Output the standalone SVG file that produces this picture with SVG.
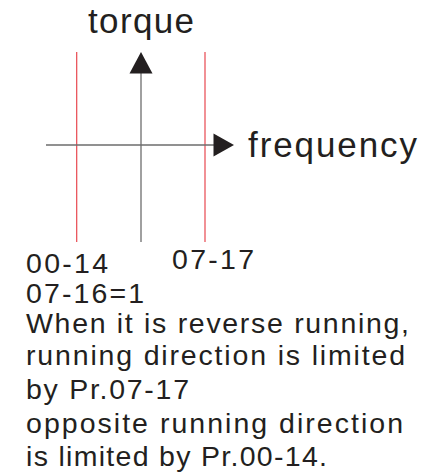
<svg xmlns="http://www.w3.org/2000/svg" width="430" height="473" viewBox="0 0 430 473">
<style>
.t{font-family:"Liberation Sans",Arial,sans-serif;fill:#231f20}
.title{font-size:35px}
.body{font-size:28.5px}
.red{stroke:#e8474f;stroke-width:1.2;fill:none}
.axis{stroke:#6d6d6d;stroke-width:1.3;fill:none}
.head{fill:#231f20}
</style>
<rect width="430" height="473" fill="#ffffff"/>
<g id="connectors">
<line class="red" x1="76.7" y1="52" x2="76.7" y2="242"/>
<line class="red" x1="205" y1="52" x2="205" y2="242"/>
<line class="axis" x1="141" y1="72" x2="141" y2="242"/>
<polygon class="head" points="141,52 129.5,73.5 152.5,73.5"/>
<line class="axis" x1="46" y1="145" x2="215" y2="145"/>
<polygon class="head" points="234,145 213.5,133.5 213.5,156.5"/>
</g>
<g id="torque"><text class="t title" x="88" y="33.3" textLength="106" lengthAdjust="spacing">torque</text></g>
<g id="frequency"><text class="t title" x="248" y="156.5" textLength="169" lengthAdjust="spacing">frequency</text></g>
<g id="label-0014"><text class="t body" x="26" y="272.7" textLength="82" lengthAdjust="spacing">00-14</text></g>
<g id="label-0717"><text class="t body" x="172" y="269.3" textLength="82" lengthAdjust="spacing">07-17</text></g>
<g id="notes">
<text class="t body" x="26" y="303.3" textLength="118" lengthAdjust="spacing">07-16=1</text>
<text class="t body" x="26" y="333.3" textLength="383" lengthAdjust="spacing">When it is reverse running,</text>
<text class="t body" x="26" y="365" textLength="379" lengthAdjust="spacing">running direction is limited</text>
<text class="t body" x="26" y="399.3" textLength="163" lengthAdjust="spacing">by Pr.07-17</text>
<text class="t body" x="26" y="433.3" textLength="377" lengthAdjust="spacing">opposite running direction</text>
<text class="t body" x="26" y="466" textLength="301" lengthAdjust="spacing">is limited by Pr.00-14.</text>
</g>
</svg>
